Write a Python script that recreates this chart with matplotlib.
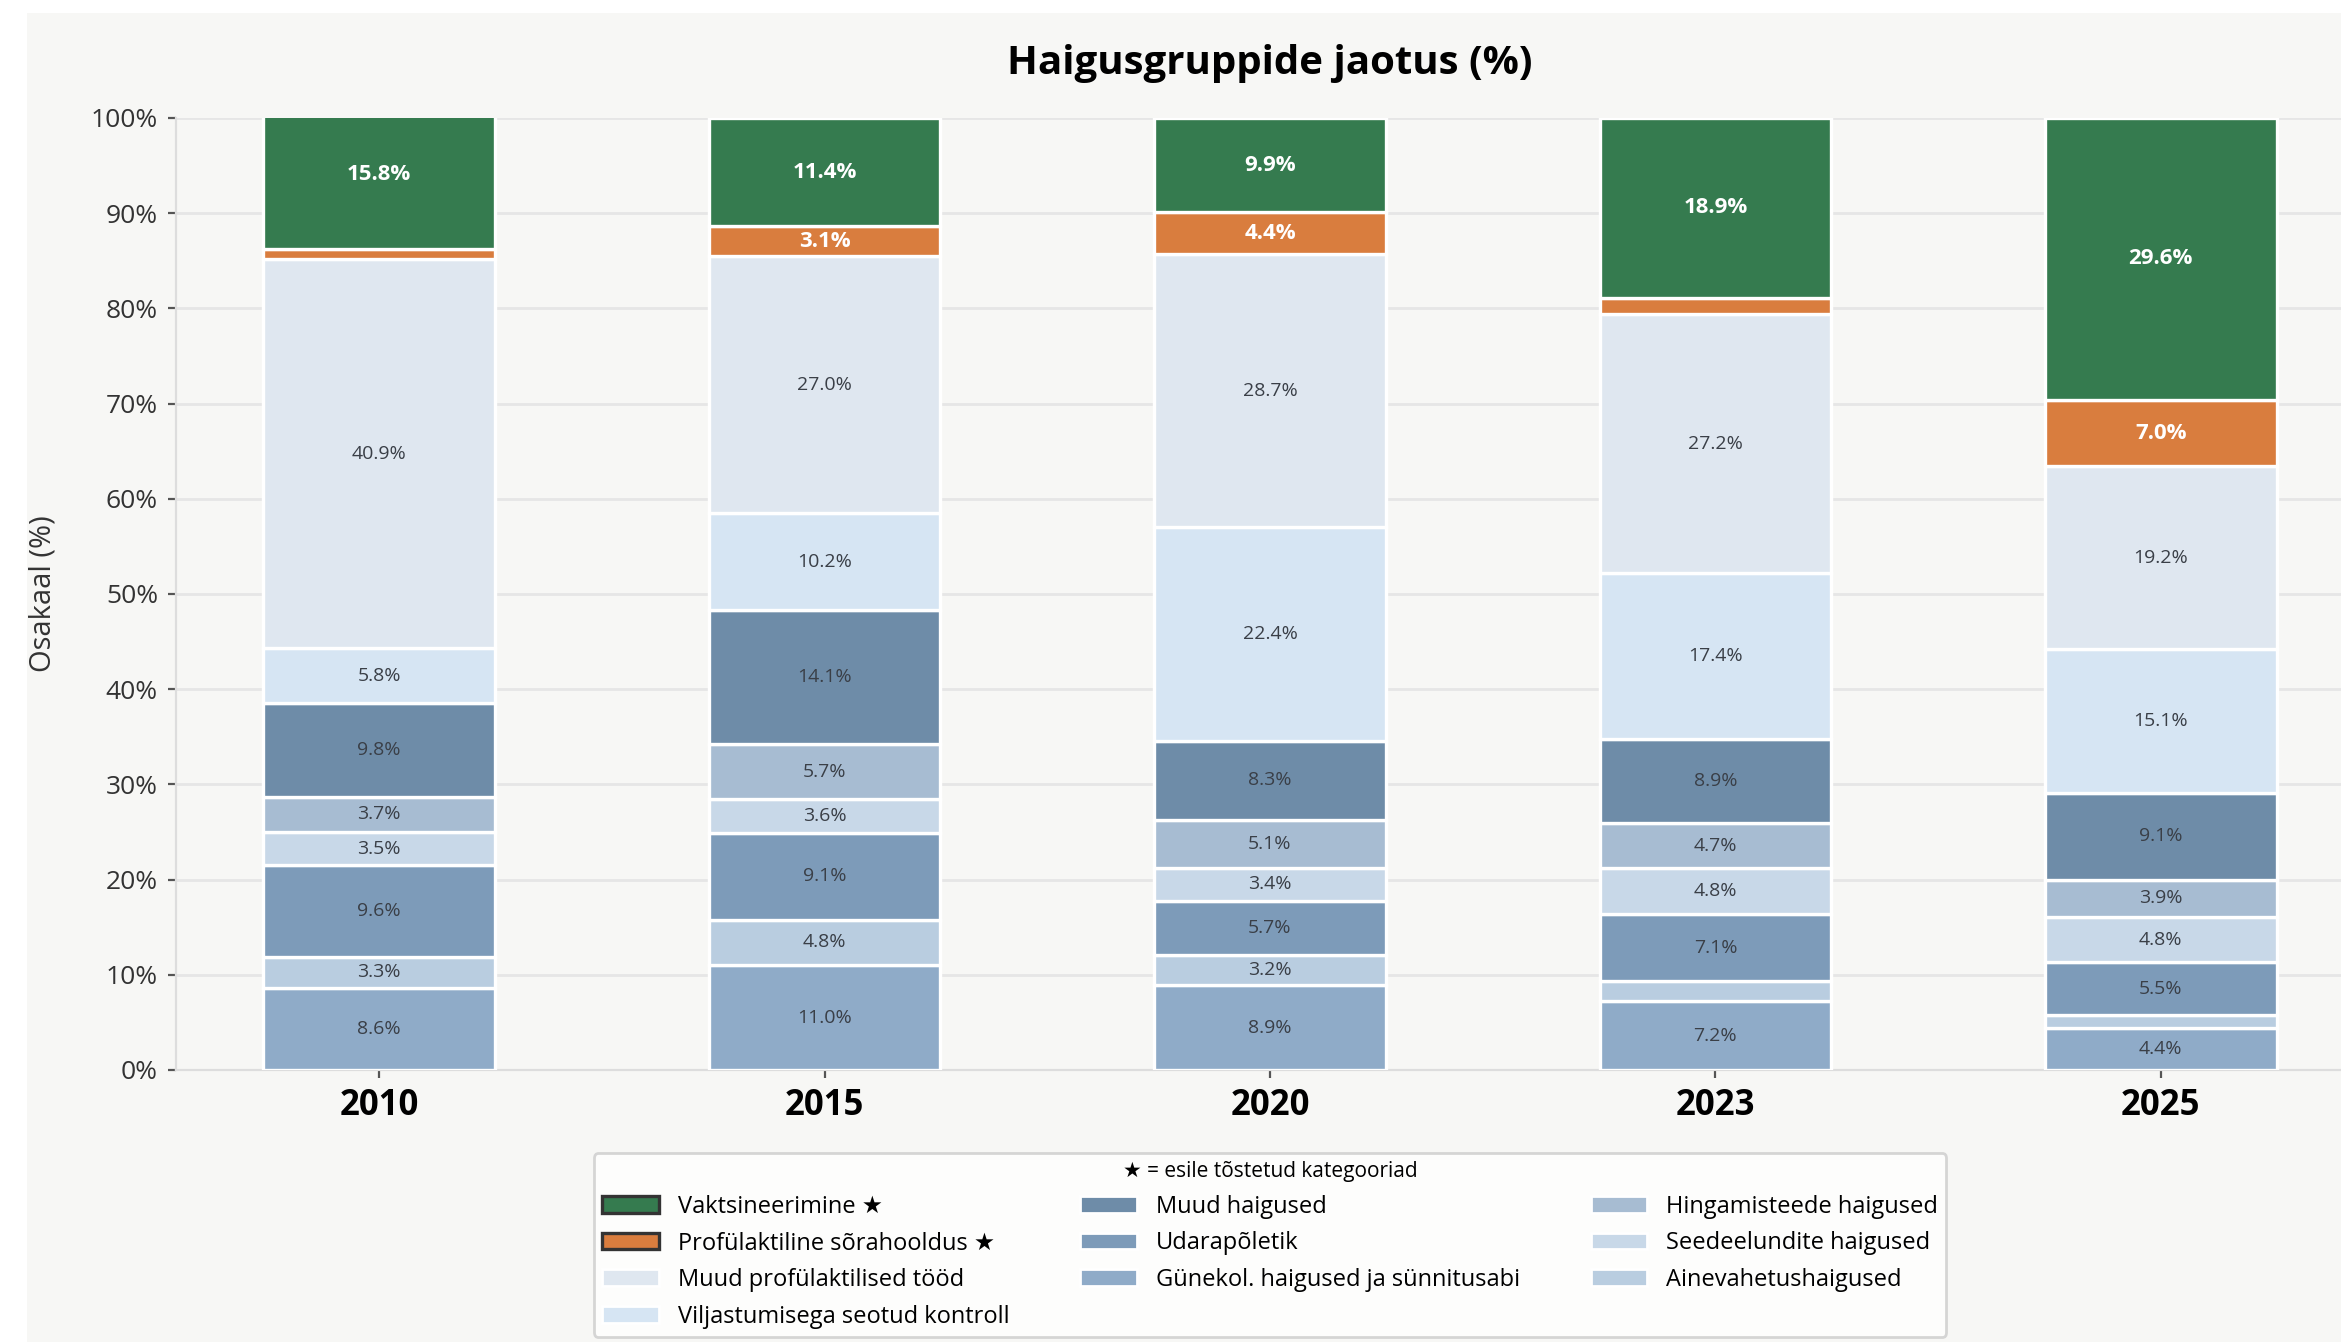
import numpy as np
import matplotlib.pyplot as plt
from matplotlib.patches import Patch, Rectangle

plt.rcParams['font.family'] = ['Open Sans', 'DejaVu Sans']

years = ['2010', '2015', '2020', '2023', '2025']

# stacking order, bottom to top
categories = [
    'Günekol. haigused ja sünnitusabi',
    'Ainevahetushaigused',
    'Udarapõletik',
    'Seedeelundite haigused',
    'Hingamisteede haigused',
    'Muud haigused',
    'Viljastumisega seotud kontroll',
    'Muud profülaktilised tööd',
    'Profülaktiline sõrahooldus',
    'Vaktsineerimine',
]
values = [
    [8.6, 11.0, 8.9, 7.2, 4.4],
    [3.3, 4.8, 3.2, 2.1, 1.4],
    [9.6, 9.1, 5.7, 7.1, 5.5],
    [3.5, 3.6, 3.4, 4.8, 4.8],
    [3.7, 5.7, 5.1, 4.7, 3.9],
    [9.8, 14.1, 8.3, 8.9, 9.1],
    [5.8, 10.2, 22.4, 17.4, 15.1],
    [40.9, 27.0, 28.7, 27.2, 19.2],
    [1.0, 3.1, 4.4, 1.7, 7.0],
    [15.8, 11.4, 9.9, 18.9, 29.6],
]
colors = ['#8fabc8', '#b9cde0', '#7d9bb9', '#c8d8e8', '#a7bcd2',
          '#6e8ca8', '#d6e5f3', '#dfe7f0', '#d97d3e', '#357b4f']
highlight = ['Vaktsineerimine', 'Profülaktiline sõrahooldus']

legend_order = [
    'Vaktsineerimine', 'Profülaktiline sõrahooldus', 'Muud profülaktilised tööd',
    'Viljastumisega seotud kontroll', 'Muud haigused', 'Udarapõletik',
    'Günekol. haigused ja sünnitusabi', 'Hingamisteede haigused',
    'Seedeelundite haigused', 'Ainevahetushaigused',
]

fig = plt.figure(figsize=(11.705, 6.71), dpi=200, facecolor='white')
fig.patches.append(Rectangle((0.0115, 0), 1, 0.99, transform=fig.transFigure,
                             facecolor='#f7f7f5', edgecolor='none', zorder=-10))
ax = fig.add_axes([0.0752, 0.2027, 0.9346, 0.7094])
ax.set_facecolor('#f7f7f5')

x = np.arange(len(years))
bottom = np.zeros(len(years))
for cat, vals, col in zip(categories, values, colors):
    vals = np.array(vals)
    ax.bar(x, vals, 0.52, bottom=bottom, color=col, edgecolor='white',
           linewidth=1.2, zorder=3)
    hl = cat in highlight
    for xi, b, v in zip(x, bottom, vals):
        if v >= 3:
            yc = b + v / 2
            if hl:
                ax.text(xi, yc, f'{v:.1f}%', ha='center', va='center', fontsize=8,
                        color='white', fontweight='bold', zorder=4)
            else:
                ax.text(xi, yc, f'{v:.1f}%', ha='center', va='center', fontsize=7,
                        color='#3a3f47', zorder=4)
    bottom += vals

ax.set_xlim(-0.456, 4.456)
ax.set_ylim(0, 100)
ax.set_xticks(x)
ax.set_xticklabels(years, fontsize=12.5, fontweight='bold')
ax.set_yticks(np.arange(0, 101, 10))
ax.set_yticklabels([f'{v}%' for v in range(0, 101, 10)], fontsize=9.5, color='#333333')
ax.tick_params(axis='both', length=3, color='#555555', width=0.8)
ax.grid(axis='y', color='#e6e6e6', linewidth=1.0, zorder=0)
for s in ['top', 'right']:
    ax.spines[s].set_visible(False)
ax.spines['left'].set_color('#dddddd')
ax.spines['bottom'].set_color('#dddddd')
ax.set_ylabel('Osakaal (%)', fontsize=10.5, color='#333333', labelpad=12)
ax.set_title('Haigusgruppide jaotus (%)', fontsize=14.5, fontweight='bold', pad=16)

handles = []
for name in legend_order:
    col = colors[categories.index(name)]
    if name in highlight:
        handles.append(Patch(facecolor=col, edgecolor='#333333', linewidth=1.2,
                             label=name + ' ★'))
    else:
        handles.append(Patch(facecolor=col, edgecolor='white', label=name))
leg = ax.legend(handles=handles, loc='upper center', bbox_to_anchor=(0.5, -0.075),
                ncol=3, fontsize=8.5, title='★ = esile tõstetud kategooriad',
                title_fontsize=7.5, frameon=True, facecolor='white',
                edgecolor='#cccccc', columnspacing=3.0, handlelength=2.4,
                labelspacing=0.53, borderpad=0.35)

fig.savefig('out.png', dpi=200, facecolor=fig.get_facecolor())
